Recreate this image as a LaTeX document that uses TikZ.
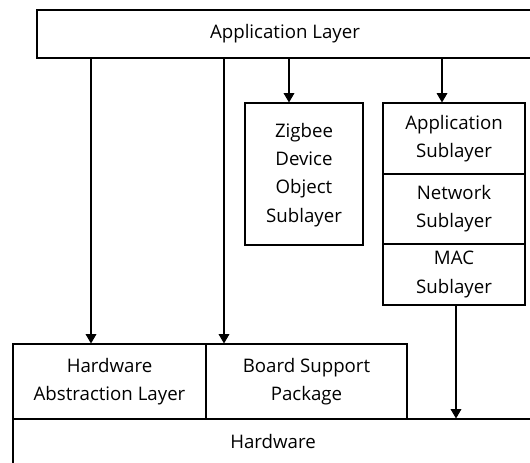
\documentclass[tikz,border=0pt]{standalone}
\usepackage{fontspec}
\setmainfont{Open Sans}
\usetikzlibrary{arrows.meta}

\tikzset{
  layer/.style={draw, line width=0.8pt, inner sep=0pt, align=center,
    font=\fontsize{14}{21.2}\selectfont},
  down/.style={line width=0.8pt, -{Triangle[length=7pt,width=8pt]}}
}

\begin{document}
\begin{tikzpicture}[x=0.75pt,y=0.75pt,yscale=-1,xscale=1]
%set diagram to the reference size
\useasboundingbox (0,0) rectangle (530,462);
\clip (0,0) rectangle (530,462);

%Shape: Rectangle [app]
\node [layer, minimum width=372pt, minimum height=36pt] (app) at (285,34) {\raisebox{2pt}{Application Layer}};
%Shape: Rectangle [zdo]
\node [layer, minimum width=88.5pt, minimum height=106.5pt] (zdo) at (304,174) {\raisebox{5pt}{\begin{tabular}{@{}c@{}}Zigbee\\Device\\Object\\Sublayer\end{tabular}}};
%Shape: Rectangle [aps]
\node [layer, minimum width=106.5pt, minimum height=53.25pt] (aps) at (454,138.5) {Application\\Sublayer};
%Shape: Rectangle [nwk]
\node [layer, minimum width=106.5pt, minimum height=52.5pt] (nwk) at (454,209) {Network\\Sublayer};
%Shape: Rectangle [mac]
\node [layer, minimum width=106.5pt, minimum height=45.75pt] (mac) at (454,274.5) {MAC\\Sublayer};
%Shape: Rectangle [hal]
\node [layer, minimum width=144.75pt, minimum height=56.25pt] (hal) at (109.5,381.5) {Hardware\\Abstraction Layer};
%Shape: Rectangle [bsp]
\node [layer, minimum width=150.75pt, minimum height=56.25pt] (bsp) at (306.5,381.5) {Board Support\\Package};
%Shape: Rectangle [hw]
\node [layer, minimum width=390pt, minimum height=38.25pt] (hw) at (273,444.5) {\raisebox{4pt}{Hardware}};

%Straight Lines
\draw [down] (91,0 |- app.south) -- (91,0 |- hal.north);
\draw [down] (224,0 |- app.south) -- (224,0 |- bsp.north);
\draw [down] (289,0 |- app.south) -- (289,0 |- zdo.north);
\draw [down] (442,0 |- app.south) -- (442,0 |- aps.north);
\draw [down] (456,0 |- mac.south) -- (456,0 |- hw.north);

\end{tikzpicture}
\end{document}
